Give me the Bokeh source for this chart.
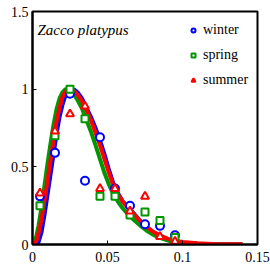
from bokeh.plotting import figure
from bokeh.models import Range1d, FixedTicker, Label, Legend, LegendItem
from bokeh.embed import file_html
from bokeh.resources import INLINE
from math import pi

# --- data ---------------------------------------------------------------
bins = [0.005, 0.015, 0.025, 0.035, 0.045, 0.055, 0.065, 0.075, 0.085, 0.095]
winter_pts = [0.31, 0.59, 0.97, 0.41, 0.69, 0.36, 0.25, 0.13, 0.12, 0.06]
spring_pts = [0.25, 0.70, 1.00, 0.81, 0.31, 0.31, 0.19, 0.21, 0.155, 0.045]
summer_pts = [0.33, 0.73, 0.84, 0.89, 0.36, 0.36, 0.215, 0.31, 0.05, 0.02]

curve_v = [0, 0.0025, 0.004, 0.006, 0.008, 0.010, 0.012, 0.014, 0.016, 0.018,
           0.020, 0.022, 0.024, 0.026, 0.028, 0.030, 0.033, 0.036, 0.039, 0.042,
           0.045, 0.048, 0.051, 0.054, 0.057, 0.060, 0.064, 0.068, 0.072, 0.076,
           0.080, 0.085, 0.090, 0.095, 0.100, 0.110, 0.120, 0.130, 0.140]
winter_fit = [0, 0, 0.015, 0.08, 0.19, 0.32, 0.45, 0.58, 0.71, 0.82,
              0.90, 0.96, 0.99, 1.0, 0.995, 0.98, 0.94, 0.88, 0.82, 0.75,
              0.67, 0.58, 0.48, 0.39, 0.33, 0.28, 0.235, 0.195, 0.15, 0.11,
              0.08, 0.05, 0.03, 0.02, 0.012, 0.005, 0.002, 0.001, 0.0]
summer_fit = [0, 0.02, 0.07, 0.16, 0.28, 0.41, 0.54, 0.67, 0.79, 0.88,
              0.95, 0.985, 1.0, 0.995, 0.985, 0.965, 0.925, 0.865, 0.80, 0.72,
              0.64, 0.55, 0.46, 0.38, 0.325, 0.278, 0.232, 0.19, 0.15, 0.115,
              0.085, 0.058, 0.038, 0.025, 0.016, 0.008, 0.004, 0.002, 0.001]
spring_fit = [0, 0.05, 0.12, 0.24, 0.38, 0.52, 0.65, 0.77, 0.87, 0.94,
              0.98, 1.0, 0.998, 0.985, 0.96, 0.93, 0.875, 0.80, 0.725, 0.64,
              0.55, 0.46, 0.385, 0.32, 0.275, 0.235, 0.19, 0.155, 0.12, 0.09,
              0.065, 0.042, 0.026, 0.016, 0.009, 0.004, 0.002, 0.0, 0.0]

x_ticks = [0, 0.05, 0.1, 0.15]
x_tick_labels = ["0", "0.05", "0.1", "0.15"]
y_ticks = [0, 0.5, 1, 1.5]
y_tick_labels = ["0", "0.5", "1", "1.5"]

BLUE = "#0000FF"
GREEN = "#009600"
RED = "#FF0000"
FONT = "Liberation Serif"

p = figure(width=270, height=270, output_backend="svg", toolbar_location=None,
           x_range=Range1d(0, 0.15), y_range=Range1d(0, 1.5),
           min_border_left=32, min_border_right=13, min_border_top=11,
           min_border_bottom=26)
p.background_fill_color = "white"
p.border_fill_color = "white"
p.outline_line_color = "black"
p.outline_line_width = 2
p.grid.visible = False

for ax, ticks, labels in ((p.xaxis[0], x_ticks, x_tick_labels),
                          (p.yaxis[0], y_ticks, y_tick_labels)):
    ax.ticker = FixedTicker(ticks=ticks)
    ax.major_label_overrides = {t: l for t, l in zip(ticks, labels)}
    ax.axis_line_width = 2
    ax.axis_line_color = "black"
    ax.major_tick_line_color = "black"
    ax.major_tick_line_width = 1
    ax.major_tick_in = 4
    ax.major_tick_out = 0
    ax.minor_tick_line_color = None
    ax.major_label_text_font = FONT
    ax.major_label_text_font_size = "14px"
    ax.major_label_text_color = "black"
p.xaxis[0].major_label_standoff = 7
p.yaxis[0].major_label_standoff = 4

# fitted curves
p.line(curve_v, winter_fit, line_color=BLUE, line_width=4)
p.line(curve_v, spring_fit, line_color=GREEN, line_width=4)
p.line(curve_v, summer_fit, line_color=RED, line_width=4)

# observed points
r_w = p.scatter(bins, winter_pts, marker="circle", size=8, line_color=BLUE,
                line_width=2, fill_color="white")
r_s = p.scatter(bins, spring_pts, marker="square", size=7, line_color=GREEN,
                line_width=2, fill_color="white")
r_u = p.scatter(bins, summer_pts, marker="triangle", size=8, line_color=RED,
                line_width=2, fill_color="white")

legend = Legend(items=[LegendItem(label="winter", renderers=[r_w]),
                       LegendItem(label="spring", renderers=[r_s]),
                       LegendItem(label="summer", renderers=[r_u])],
                location=(156, 154), padding=0, margin=0, spacing=5,
                glyph_width=10, glyph_height=20, label_height=20,
                label_standoff=5, label_text_font=FONT,
                label_text_font_size="14px", label_text_color="black",
                border_line_color=None, background_fill_alpha=0)
p.add_layout(legend, "center")

p.add_layout(Label(x=0.0033, y=1.38, text="Zacco platypus", text_font=FONT,
                   text_font_style="italic", text_font_size="15px",
                   text_baseline="middle", text_align="left", text_color="black"))
p.add_layout(Label(x=-0.010, y=1.25, text="SI(v)", text_font=FONT,
                   text_font_style="italic", text_font_size="14px",
                   angle=pi / 2, text_baseline="middle", text_align="center",
                   text_color="black"))
p.add_layout(Label(x=0.1275, y=-0.09, text="(m/s)", text_font=FONT,
                   text_font_size="14px", text_baseline="middle",
                   text_align="center", text_color="black"))

open("out.html", "w").write(file_html(p, INLINE))
